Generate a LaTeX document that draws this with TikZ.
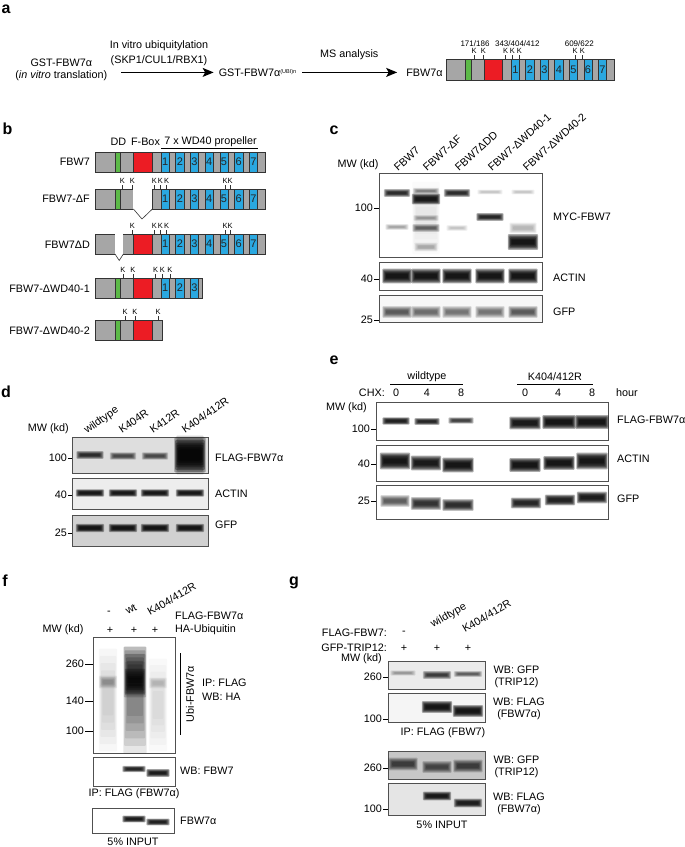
\documentclass[tikz,border=0pt]{standalone}
\usepackage{fontspec}
\setmainfont{Liberation Sans}
\usetikzlibrary{positioning,arrows.meta,calc}
\definecolor{barg}{HTML}{A6A6A6}
\definecolor{ddgreen}{HTML}{5BB947}
\definecolor{fbred}{HTML}{EC1C24}
\definecolor{wdblue}{HTML}{2AA8E0}
\definecolor{edge}{HTML}{333333}
\definecolor{frame}{HTML}{505050}

% domain bar: #1 prefix, #2 x, #3 top, #4 xscale, #5 yscale, #6 blades, #7 length
\newcommand{\fbwbar}[7]{%
  \begin{scope}[shift={(#2,#3)}, xscale=#4, yscale=#5]
    \fill[barg] (0,0) rectangle (#7,20);
    \draw[dom, fill=ddgreen] (19.3,0) rectangle (25,20);
    \draw[dom, fill=fbred] (37.7,0) rectangle (56.7,20);
    \ifnum#6>0
      \foreach \i in {1,...,#6} {
        \draw[dom, fill=wdblue] ({65.3+14.7*(\i-1)},0) rectangle ++(8.3,20);
        \node[blade] (#1-\i) at ({69.45+14.7*(\i-1)},10) {\i};
      }
    \fi
    \draw[dom, line width=0.9pt] (0,0) rectangle (#7,20);
  \end{scope}}

% lysine ticks: #1 prefix, #2 bar top, #3 positions
\newcommand{\kmarks}[3]{%
  \foreach \kx [count=\kn] in {#3}
    \draw[ktick] (\kx,#2) -- ++(0,-4.5) node[klab] (#1-k\kn) {K};}

% blurred band: #1 x, #2 y, #3 width, #4 height, #5 strength
\newcommand{\band}[5]{%
  \pgfmathsetmacro{\bandop}{0.33*#5}%
  \foreach \q in {0,...,5} {
    \pgfmathsetmacro{\bw}{#3/2+1.6-0.75*\q}%
    \pgfmathsetmacro{\bh}{(#4/2+1.3)*(1-0.14*\q)}%
    \fill[black, opacity=\bandop, rounded corners=0.8pt] ({#1-\bw},{#2-\bh}) rectangle ({#1+\bw},{#2+\bh});
  }}

% blot frame: #1 name, #2 x, #3 y, #4 width, #5 height, #6 fill
\newcommand{\blot}[6]{%
  \node[blot, fill=#6, minimum width=#4pt, minimum height=#5pt] (#1) at (#2,#3) {};}

% size marker: #1 name, #2 text east x, #3 y, #4 blot, #5 text
\newcommand{\mwmark}[5]{%
  \node[mwlab] (#1) at (#2,#3) {#5};
  \draw[tick] ([xshift=1pt]#1.east) -- (#1.east -| #4.west);}

\begin{document}
\begin{tikzpicture}[x=1pt, y=-1pt,
    every node/.style={inner sep=0pt, font=\fontsize{10.8}{13}\selectfont},
    panel/.style={font=\fontsize{16}{16}\selectfont\bfseries},
    dom/.style={draw=edge, line width=0.6pt},
    blade/.style={font=\fontsize{11}{11}\selectfont, text=black!85},
    ktick/.style={draw=edge, line width=0.5pt},
    klab/.style={anchor=south, inner sep=0.8pt, font=\fontsize{7.5}{7.5}\selectfont},
    kpos/.style={font=\fontsize{8}{8}\selectfont},
    bigarrow/.style={-{Stealth[length=11pt, width=9pt, inset=2.5pt]}, line width=1.2pt},
    blot/.style={anchor=north west, draw=frame, line width=0.8pt, outer sep=0pt},
    mwlab/.style={anchor=east},
    tick/.style={draw=black, line width=0.7pt},
    lane/.style={anchor=base west, rotate=#1},
    rlab/.style={anchor=west},
    twoline/.style={align=center, font=\fontsize{10.8}{12}\selectfont}
  ]
  \fill[white] (0,0) rectangle (685,847);
  \useasboundingbox (0,0) rectangle (685,847);

  % a
  \node[panel] (pa) at (6,9) {a};
  \node[align=center, font=\fontsize{10.8}{12.7}\selectfont] (gst) at (61.3,69.7) {GST-FBW7α\\(\textit{in vitro} translation)};
  \node (gstub) at (257.5,72.4) {GST-FBW7α{\fontsize{5.5}{6}\selectfont\raisebox{3pt}{(UBI)n}}};
  \node (fbw) at (424.5,72.4) {FBW7α};
  \draw[bigarrow, shorten <=14pt, shorten >=5pt] (gst.east |- gstub.west) -- node[above=6.5pt, xshift=-4pt, align=center, font=\fontsize{10.8}{14.6}\selectfont] (ubq) {In vitro ubiquitylation\\(SKP1/CUL1/RBX1)} (gstub.west);
  \draw[bigarrow, shorten <=6pt, shorten >=9pt] (gstub.east) -- node[above=12.5pt, xshift=-2pt] (msa) {MS analysis} (fbw.west);
  \fbwbar{ab}{446.7}{59.3}{0.988}{1.07}{7}{169.3}
  \kmarks{ab}{59.3}{474,483.3,505.7,512.3,519.3,575,582.3}
  \node[kpos] (ak1) at (475,44) {171/186};
  \node[kpos] (ak2) at (517.3,44) {343/404/412};
  \node[kpos] (ak3) at (579.3,44) {609/622};

  % b
  \node[panel] (pb) at (7.5,128.5) {b};
  \node (hdd) at (118.5,142) {DD};
  \node (hfb) at (145.5,142) {F-Box};
  \node (hwd) at (210.5,142) {7 x WD40 propeller};
  \draw[line width=0.7pt] (161,148) -- (258,148);
  \node[anchor=east] (r1) at (90,162) {FBW7};
  \fbwbar{b1}{95.7}{152}{1}{1}{7}{169.3}
  \node[anchor=east] (r2) at (90,199) {FBW7-ΔF};
  \fbwbar{b2}{95.7}{189}{1}{1}{7}{169.3}
  \fill[white] (133.4,187.5) rectangle (152.4,210.5);
  \draw[dom] (133.4,209) -- (142,219) -- (152.4,209);
  \kmarks{b2}{189}{122.3,132.3,154.3,160.3,166.7,225,230}
  \node[anchor=east] (r3) at (90,245) {FBW7ΔD};
  \fbwbar{b3}{95.7}{234}{1}{1}{7}{169.3}
  \fill[white] (115,232.5) rectangle (123.4,255.5);
  \draw[dom] (115,254) -- (119.2,260.5) -- (123.4,254);
  \kmarks{b3}{234}{132.3,154.3,160.3,166.7,225,230}
  \node[anchor=east] (r4) at (90,289) {FBW7-ΔWD40-1};
  \fbwbar{b4}{95.7}{278}{1}{1}{3}{106.6}
  \kmarks{b4}{278}{123,133,155.7,162.3,170}
  \node[anchor=east] (r5) at (90,331) {FBW7-ΔWD40-2};
  \fbwbar{b5}{95.7}{320}{1}{1}{0}{66.6}
  \kmarks{b5}{320}{125,135,158}

  % c
  \node[panel] (pc) at (334,130) {c};
  \node (cmw) at (358,165) {MW (kd)};
  \foreach \lx/\txt [count=\i] in {398/FBW7, 427/FBW7-ΔF, 459/FBW7ΔDD, 492/FBW7-ΔWD40-1, 527/FBW7-ΔWD40-2}
    \node[lane=42] (cl\i) at (\lx,172) {\txt};
  \blot{cA}{379}{173}{163}{84}{white}
  \blot{cB}{379}{262}{163}{28}{white}
  \blot{cC}{379}{295}{163}{27}{black!3}
  \band{397}{193}{23}{5}{0.75}
  \band{397}{227}{20}{3}{0.2}
  \band{426}{218}{24}{70}{0.05}
  \band{426}{191}{23}{3}{0.3}
  \band{426}{199}{25}{8}{0.95}
  \band{426}{218}{22}{3}{0.2}
  \band{426}{228}{24}{5}{0.4}
  \band{426}{247}{20}{6}{0.18}
  \band{457}{193}{23}{5}{0.75}
  \band{457}{228}{18}{3}{0.12}
  \band{490}{192}{22}{2}{0.12}
  \band{490}{217}{24}{5}{0.8}
  \band{523}{192}{20}{2}{0.12}
  \band{523}{228}{24}{8}{0.15}
  \band{523}{242}{27}{13}{1}
  \foreach \lx in {397,426,457,490,523}
    \band{\lx}{276}{26}{12}{1};
  \foreach \lx/\s in {397/0.45,426/0.38,457/0.35,490/0.35,523/0.45}
    \band{\lx}{312}{26}{9}{\s};
  \mwmark{c100}{373}{208}{cA}{100}
  \mwmark{c40}{373}{279}{cB}{40}
  \mwmark{c25}{373}{320}{cC}{25}
  \node[rlab] (cmyc) at (553,217) {MYC-FBW7};
  \node[rlab] (cact) at (553,278) {ACTIN};
  \node[rlab] (cgfp) at (553,312) {GFP};

  % d
  \node[panel] (pd) at (6,391.5) {d};
  \node (dmw) at (48.3,428.3) {MW (kd)};
  \node[lane=35] (dl1) at (87,434) {wildtype};
  \node[lane=35] (dl2) at (122,434) {K404R};
  \node[lane=35] (dl3) at (153,434) {K412R};
  \node[lane=35] (dl4) at (185,434) {K404/412R};
  \blot{dA}{72}{437}{136}{36}{black!13}
  \blot{dB}{72}{478}{136}{31}{black!7}
  \blot{dC}{72}{515}{136}{31}{black!18}
  \band{90}{455}{24}{5}{0.7}
  \band{123}{456}{23}{4.5}{0.5}
  \band{155}{456}{23}{4.5}{0.5}
  \band{190}{455}{24}{36}{0.5}
  \band{190}{455}{28}{32}{1}
  \foreach \lx in {90,123,155,190} {
    \band{\lx}{493}{25}{4.5}{0.95}
    \band{\lx}{528}{25}{5.5}{0.95}
  }
  \mwmark{d100}{67}{458}{dA}{100}
  \mwmark{d40}{67}{495}{dB}{40}
  \mwmark{d25}{67}{533}{dC}{25}
  \node[rlab] (dflag) at (215,458) {FLAG-FBW7α};
  \node[rlab] (dact) at (215,494) {ACTIN};
  \node[rlab] (dgfp) at (215,525) {GFP};

  % e
  \node[panel] (pe) at (334,360) {e};
  \node (ewt) at (427,377) {wildtype};
  \node (emut) at (555,377) {K404/412R};
  \draw[line width=0.7pt] (390,384) -- (463,384);
  \draw[line width=0.7pt] (517,384) -- (593,384);
  \node[anchor=east] (echx) at (385,393) {CHX:};
  \foreach \lx/\t [count=\i] in {396/0,427/4,461/8,525/0,558/4,592/8}
    \node (et\i) at (\lx,393) {\t};
  \node[rlab] (ehr) at (616,393) {hour};
  \node[anchor=east] (emw) at (367,408) {MW (kd)};
  \blot{eA}{376}{402}{232}{38}{white}
  \blot{eB}{376}{445}{232}{36}{white}
  \blot{eC}{376}{485}{232}{34}{white}
  \band{396}{421}{24}{4.5}{0.85}
  \band{427}{421.5}{22}{4}{0.8}
  \band{461}{420.5}{22}{3.5}{0.6}
  \band{525}{423}{28}{10}{0.95}
  \band{559}{422}{30}{11}{1}
  \band{592}{422}{30}{11}{1}
  \band{395}{461}{27}{14}{1}
  \band{426}{463}{27}{12}{0.95}
  \band{458}{465}{28}{12}{1}
  \band{525}{465}{28}{11}{1}
  \band{559}{463}{28}{11}{1}
  \band{592}{461}{28}{14}{1}
  \band{395}{501}{26}{9}{0.45}
  \band{426}{503.5}{27}{10}{0.7}
  \band{458}{505}{28}{9}{0.75}
  \band{526}{503}{27}{8}{0.8}
  \band{560}{500}{27}{8}{0.85}
  \band{592}{497.5}{27}{9}{0.9}
  \mwmark{e100}{370}{429}{eA}{100}
  \mwmark{e40}{370}{464}{eB}{40}
  \mwmark{e25}{370}{501}{eC}{25}
  \node[rlab] (eflag) at (617,420) {FLAG-FBW7α};
  \node[rlab] (eact) at (617,459) {ACTIN};
  \node[rlab] (egfp) at (617,499) {GFP};

  % f
  \node[panel] (pf) at (5,581) {f};
  \node (fm) at (109,613) {-};
  \node[lane=30] (fwt) at (128,615) {wt};
  \node[lane=30] (fmut) at (150,616) {K404/412R};
  \node[rlab] (fflag) at (175,616) {FLAG-FBW7α};
  \node[rlab] (fha) at (175,630) {HA-Ubiquitin};
  \node (fmw) at (63,630) {MW (kd)};
  \foreach \lx [count=\i] in {110,134,155}
    \node (fp\i) at (\lx,630) {+};
  \blot{fA}{93}{637}{82}{116}{white}
  \blot{fB}{93}{757}{82}{29}{white}
  \blot{fC}{92}{808}{82}{25}{white}
  \band{108}{700}{15}{100}{0.1}
  \band{108}{682}{15}{10}{0.2}
  \band{135}{700}{20}{104}{0.3}
  \band{135}{672}{19}{48}{0.55}
  \band{135}{682}{17}{24}{0.65}
  \band{158}{705}{15}{90}{0.07}
  \band{158}{683}{15}{8}{0.12}
  \band{134}{769}{20}{3.5}{0.8}
  \band{158}{773}{20}{5}{0.9}
  \band{134}{819}{20}{4}{0.9}
  \band{158}{822}{20}{4}{0.85}
  \mwmark{f260}{84}{664}{fA}{260}
  \mwmark{f140}{84}{701}{fA}{140}
  \mwmark{f100}{84}{731}{fA}{100}
  \draw[line width=0.8pt] (180,653) -- (180,735);
  \node[rotate=90] (fubi) at (190,694) {Ubi-FBW7α};
  \node[rlab] (fip) at (202,683) {IP: FLAG};
  \node[rlab] (fwb) at (202,697) {WB: HA};
  \node[rlab] (fwbf) at (180,771) {WB: FBW7};
  \node[below=2pt of fB] (fipl) {IP: FLAG (FBW7α)};
  \node[rlab] (ffbw) at (180,821) {FBW7α};
  \node[below=5pt of fC] (finp) {5\% INPUT};

  % g
  \node[panel] (pg) at (294,583) {g};
  \node[anchor=east] (gflag) at (387,633) {FLAG-FBW7:};
  \node[anchor=east] (ggfp) at (387,648) {GFP-TRIP12:};
  \node[anchor=east] (gmw) at (382,659) {MW (kd)};
  \node (gm) at (404,633) {-};
  \foreach \lx [count=\i] in {404,437,468}
    \node (gp\i) at (\lx,648) {+};
  \node[lane=30] (gwt) at (433,628) {wildtype};
  \node[lane=30] (gmut) at (465,633) {K404/412R};
  \blot{gA}{388}{661}{97}{28}{black!8}
  \blot{gB}{388}{693}{97}{29}{black!4}
  \blot{gC}{388}{751}{97}{28}{black!22}
  \blot{gD}{388}{783}{97}{32}{black!10}
  \band{403}{673}{22}{2.5}{0.2}
  \band{437}{675}{25}{5}{0.6}
  \band{468}{674}{25}{3}{0.4}
  \band{437}{707}{27}{9}{1}
  \band{468}{711}{27}{9}{1}
  \band{403}{764}{26}{10}{0.55}
  \band{437}{767}{26}{9}{0.5}
  \band{468}{766}{26}{10}{0.55}
  \band{437}{796}{25}{6}{0.9}
  \band{468}{803}{25}{6}{0.85}
  \mwmark{g260a}{382}{677}{gA}{260}
  \mwmark{g100a}{382}{719}{gB}{100}
  \mwmark{g260b}{382}{768}{gC}{260}
  \mwmark{g100b}{382}{809}{gD}{100}
  \node[twoline] (gwb1) at (516.5,677) {WB: GFP\\(TRIP12)};
  \node[twoline] (gwb2) at (519,708.5) {WB: FLAG\\(FBW7α)};
  \node[twoline] (gwb3) at (516.5,767) {WB: GFP\\(TRIP12)};
  \node[twoline] (gwb4) at (519,803.5) {WB: FLAG\\(FBW7α)};
  \node (gip) at (443,733) {IP: FLAG (FBW7)};
  \node (ginp) at (442,825) {5\% INPUT};
\end{tikzpicture}
\end{document}
